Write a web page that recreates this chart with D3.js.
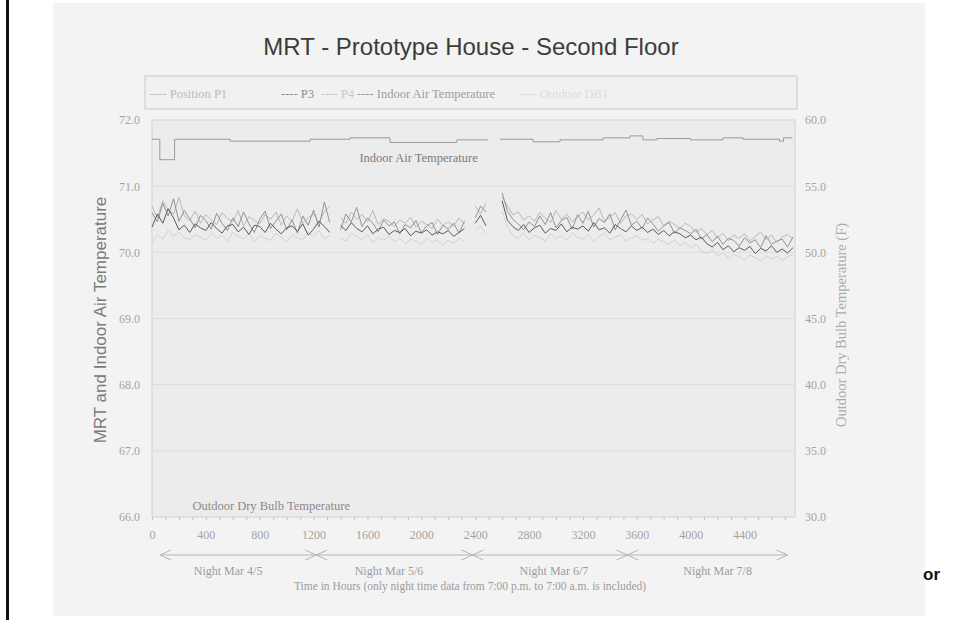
<!DOCTYPE html>
<html lang="en">
<head>
  <meta charset="utf-8">
  <title>MRT - Prototype House - Second Floor</title>
  <script src="https://cdn.jsdelivr.net/npm/d3@7"></script>
  <style>
    body { margin: 0; background: #fff; }
    .serif text, text.serif { font-family: "Liberation Serif", "Times New Roman", serif; }
    .sans { font-family: "Liberation Sans", Arial, sans-serif; }
  </style>
</head>
<body>
  <div id="chart"></div>

  <script>
    "use strict"

    // sample times (hours of night-time data) shared by the MRT traces
    var hours = [0,40,80,120,160,200,240,280,320,360,400,440,480,520,560,600,640,680,720,760,
      800,840,880,920,960,1000,1040,1080,1120,1160,1200,1240,1280,1320,1360,1400,1440,1480,1520,1560,
      1600,1640,1680,1720,1760,1800,1840,1880,1920,1960,2000,2040,2080,2120,2160,2200,2240,2280,2320,2360,
      2400,2440,2480,2520,2560,2600,2640,2680,2720,2760,2800,2840,2880,2920,2960,3000,3040,3080,3120,3160,
      3200,3240,3280,3320,3360,3400,3440,3480,3520,3560,3600,3640,3680,3720,3760,3800,3840,3880,3920,3960,
      4000,4040,4080,4120,4160,4200,4240,4280,4320,4360,4400,4440,4480,4520,4560,4600,4640,4680,4720,4760];

    var mrtP1 = [70.60,70.46,70.74,70.55,70.81,70.47,70.63,70.51,70.37,70.56,
      70.48,70.35,70.59,70.44,70.33,70.52,70.39,70.61,70.43,70.30,
      70.50,70.62,70.36,70.47,70.58,70.34,70.49,70.29,70.55,70.41,
      70.64,70.38,70.76,70.45,null,70.34,70.58,70.46,70.68,70.39,
      70.52,70.44,70.31,70.49,70.40,70.46,70.28,70.42,70.37,70.48,
      70.30,70.40,70.45,70.27,70.41,70.35,70.44,70.29,70.47,null,
      70.52,70.70,70.61,null,null,70.90,70.62,70.50,70.43,70.34,
      70.46,70.39,70.55,70.42,70.60,70.37,70.48,70.53,70.35,70.57,
      70.44,70.62,70.38,70.51,70.45,70.58,70.34,70.49,70.64,70.41,
      70.47,70.36,70.52,70.43,70.32,70.40,70.45,70.29,70.37,70.33,
      70.28,70.35,70.20,70.27,70.16,70.24,70.12,70.21,70.18,70.09,
      70.22,70.14,70.19,70.07,70.25,70.12,70.17,70.20,70.08,70.23];

    var mrtP2 = [70.15,70.26,70.20,70.33,70.24,70.30,70.22,70.19,70.27,70.23,
      70.18,70.29,70.21,70.25,70.17,70.30,70.24,70.20,70.28,70.16,
      70.26,70.21,70.18,70.29,70.23,70.15,70.27,70.22,70.19,70.30,
      70.24,70.33,70.20,70.26,null,70.22,70.17,70.29,70.24,70.19,
      70.27,70.15,70.23,70.18,70.25,70.16,70.21,70.13,70.20,70.17,
      70.12,70.22,70.15,70.19,70.11,70.18,70.14,70.21,70.16,null,
      70.32,70.40,70.28,null,null,70.62,70.38,70.26,70.21,70.29,
      70.19,70.26,70.22,70.17,70.28,70.21,70.25,70.18,70.30,70.23,
      70.20,70.27,70.16,70.24,70.29,70.19,70.23,70.26,70.17,70.22,
      70.25,70.18,70.21,70.14,70.20,70.16,70.12,70.19,70.10,70.15,
      70.07,70.12,70.02,69.98,70.04,69.95,69.99,69.91,69.97,69.93,
      69.89,69.96,69.92,69.87,69.95,69.90,69.94,69.88,69.93,69.97];

    var mrtP3 = [70.38,70.58,70.44,70.66,70.52,70.34,70.41,70.30,70.43,70.37,
      70.33,70.45,70.36,70.29,70.40,70.42,70.31,70.38,70.27,70.41,
      70.39,70.30,70.44,70.35,70.28,70.37,70.40,70.32,70.43,70.26,
      70.35,70.47,70.39,70.30,null,70.41,70.33,70.45,70.36,70.31,
      70.40,70.28,70.35,70.38,70.27,70.33,70.30,70.36,70.25,70.32,
      70.29,70.34,70.26,70.31,70.28,70.33,70.24,70.30,70.36,null,
      70.44,70.56,70.40,null,null,70.78,70.48,70.39,70.33,70.42,
      70.30,70.37,70.41,70.29,70.36,70.33,70.43,70.31,70.38,70.35,
      70.40,70.32,70.45,70.34,70.37,70.29,70.42,70.36,70.31,70.40,
      70.33,70.38,70.30,70.35,70.27,70.33,70.25,70.31,70.28,70.22,
      70.26,70.19,70.23,70.13,70.08,70.15,70.04,70.10,70.01,70.07,
      70.03,70.09,69.98,70.06,70.02,70.10,70.00,70.05,69.99,70.07];

    var mrtP4 = [70.70,70.52,70.78,70.64,70.58,70.83,70.55,70.48,70.62,70.44,
      70.57,70.49,70.42,70.60,70.51,70.46,70.63,70.40,70.54,70.48,
      70.43,70.57,70.50,70.61,70.41,70.55,70.47,70.66,70.44,70.52,
      70.58,70.45,70.62,70.70,null,70.52,70.44,70.61,70.50,70.57,
      70.46,70.63,70.42,70.51,70.47,70.39,70.49,70.44,70.53,70.38,
      70.47,70.42,70.36,70.50,70.41,70.46,70.40,70.52,70.43,null,
      70.70,70.58,70.74,null,null,70.84,70.70,70.57,70.61,70.49,
      70.55,70.47,70.60,70.52,70.45,70.63,70.50,70.58,70.46,70.54,
      70.61,70.49,70.56,70.67,70.47,70.53,70.60,70.44,70.55,70.58,
      70.50,70.57,70.43,70.49,70.54,70.40,70.47,70.42,70.36,70.44,
      70.39,70.30,70.36,70.27,70.33,70.22,70.29,70.18,70.26,70.21,
      70.28,70.17,70.24,70.31,70.19,70.26,70.15,70.23,70.27,70.20];

    // indoor air temperature (stepped thermostat record)
    var indoorHours = [0,58,168,580,1175,1470,1767,2264,2494,2500,2585,2830,3030,3350,3550,3645,3750,4000,4240,4390,4660,4690,4755];
    var indoorTemp  = [71.71,71.40,71.71,71.68,71.71,71.73,71.66,71.70,71.70,null,71.71,71.67,71.70,71.73,71.76,71.70,71.72,71.70,71.73,71.71,71.68,71.73,71.73];

    var leftTicks  = [66, 67, 68, 69, 70, 71, 72];
    var rightTicks = [30, 35, 40, 45, 50, 55, 60];
    var hourTicks  = [0, 400, 800, 1200, 1600, 2000, 2400, 2800, 3200, 3600, 4000, 4400];
    var nightBreaks = [1220, 2380, 3530];
    var nightLabels = ['Night Mar 4/5', 'Night Mar 5/6', 'Night Mar 6/7', 'Night Mar 7/8'];
    var nightCentres = [565, 1760, 2985, 4200];

    var legendLabels = ['---- Position P1', '---- P2', '---- P3', '---- P4', '---- Indoor Air Temperature', '---- Outdoor DB1'];

    var series = [
      { name: 'P2', values: mrtP2, colour: '#d2d2d2' },
      { name: 'P4', values: mrtP4, colour: '#b8b8b8' },
      { name: 'P1', values: mrtP1, colour: '#929292' },
      { name: 'P3', values: mrtP3, colour: '#5a5a5a' }
    ];

    function drawChart() {
      var W = 956, H = 620;
      var plot = { left: 152, right: 795, top: 120, bottom: 517 };

      var svg = d3.select('#chart').append('svg')
        .attr('width', W).attr('height', H);

      // scanned sheet
      svg.append('rect').attr('width', W).attr('height', H).attr('fill', '#fff');
      svg.append('rect').attr('x', 53).attr('y', 3).attr('width', 872).attr('height', 613).attr('fill', '#f3f3f3');
      svg.append('rect').attr('x', 6).attr('y', 0).attr('width', 3).attr('height', H).attr('fill', '#111');

      var x = d3.scaleLinear().domain([0, 4775]).range([plot.left, plot.right]);
      var yL = d3.scaleLinear().domain([66, 72]).range([plot.bottom, plot.top]);
      var yR = d3.scaleLinear().domain([30, 60]).range([plot.bottom, plot.top]);

      // title
      svg.append('text').attr('class', 'sans')
        .attr('x', 471).attr('y', 55)
        .attr('text-anchor', 'middle')
        .attr('font-size', 24).attr('fill', '#3c3c3c')
        .text('MRT - Prototype House - Second Floor');

      // legend box
      var legend = svg.append('g').attr('class', 'serif');
      legend.append('rect').attr('x', 145).attr('y', 76).attr('width', 652).attr('height', 33)
        .attr('fill', '#f1f1f1').attr('stroke', '#c9c9c9');
      var legX = [150, 244, 281, 321, 357, 520];
      var legCol = ['#b9b9b9', '#ededed', '#8c8c8c', '#c9c9c9', '#9c9c9c', '#dcdcdc'];
      legend.selectAll('text.leg').data(legendLabels).enter().append('text')
        .attr('class', 'leg')
        .attr('x', (d, i) => legX[i]).attr('y', 98)
        .attr('font-size', 12.5)
        .attr('fill', (d, i) => legCol[i])
        .text(d => d);

      // plot area
      svg.append('rect')
        .attr('x', plot.left).attr('y', plot.top)
        .attr('width', plot.right - plot.left).attr('height', plot.bottom - plot.top)
        .attr('fill', '#ececec').attr('stroke', '#d2d2d2');

      svg.append('g').selectAll('line').data(leftTicks.slice(1, -1)).enter().append('line')
        .attr('x1', plot.left).attr('x2', plot.right)
        .attr('y1', d => yL(d)).attr('y2', d => yL(d))
        .attr('stroke', '#dcdcdc');

      // minor hour ticks
      svg.append('g')
        .attr('transform', 'translate(0,' + plot.bottom + ')')
        .call(d3.axisBottom(x).tickValues(d3.range(0, 4800, 100)).tickSize(3).tickFormat(''))
        .call(g => g.select('.domain').remove())
        .call(g => g.selectAll('line').attr('stroke', '#c4c4c4'));

      // axes
      var axisStyle = function(g) {
        g.select('.domain').remove();
        g.selectAll('text').attr('fill', '#a3a3a3').attr('font-size', 12)
          .attr('font-family', '"Liberation Serif", "Times New Roman", serif');
      };
      svg.append('g')
        .attr('transform', 'translate(' + plot.left + ',0)')
        .call(d3.axisLeft(yL).tickValues(leftTicks).tickFormat(d3.format('.1f')).tickSize(0).tickPadding(12))
        .call(axisStyle);
      svg.append('g')
        .attr('transform', 'translate(' + plot.right + ',0)')
        .call(d3.axisRight(yR).tickValues(rightTicks).tickFormat(d3.format('.1f')).tickSize(0).tickPadding(10))
        .call(axisStyle);
      svg.append('g')
        .attr('transform', 'translate(0,' + plot.bottom + ')')
        .call(d3.axisBottom(x).tickValues(hourTicks).tickFormat(d3.format('d')).tickSize(0).tickPadding(13))
        .call(axisStyle);

      // MRT traces
      var mrtLine = d3.line()
        .defined(d => d[1] != null)
        .x(d => x(d[0]))
        .y(d => yL(d[1]));
      svg.append('g').selectAll('path').data(series).enter().append('path')
        .attr('d', s => mrtLine(hours.map((h, i) => [h, s.values[i]])))
        .attr('fill', 'none')
        .attr('stroke', s => s.colour)
        .attr('stroke-width', 1);

      // indoor air temperature
      var indoorLine = d3.line()
        .defined(d => d[1] != null)
        .curve(d3.curveStepAfter)
        .x(d => x(d[0]))
        .y(d => yL(d[1]));
      svg.append('path')
        .attr('d', indoorLine(indoorHours.map((h, i) => [h, indoorTemp[i]])))
        .attr('fill', 'none').attr('stroke', '#9a9a9a').attr('stroke-width', 1);

      // in-plot labels
      svg.append('text').attr('class', 'serif')
        .attr('x', x(1540)).attr('y', yL(71.37))
        .attr('font-size', 12.5).attr('fill', '#7a7a7a')
        .text('Indoor Air Temperature');
      svg.append('text').attr('class', 'serif')
        .attr('x', x(300)).attr('y', yL(66.1))
        .attr('font-size', 12.5).attr('fill', '#8a8a8a')
        .text('Outdoor Dry Bulb Temperature');

      // axis titles
      svg.append('text').attr('class', 'sans')
        .attr('transform', 'translate(106,320) rotate(-90)')
        .attr('text-anchor', 'middle')
        .attr('font-size', 17).attr('fill', '#7a7a7a')
        .text('MRT and Indoor Air Temperature');
      svg.append('text').attr('class', 'serif')
        .attr('transform', 'translate(846,325) rotate(-90)')
        .attr('text-anchor', 'middle')
        .attr('font-size', 14.5).attr('fill', '#ababab')
        .text('Outdoor Dry Bulb Temperature (F)');

      // night spans under the axis
      var arrowY = 555;
      var nights = svg.append('g').attr('stroke', '#b5b5b5').attr('fill', 'none');
      nights.append('line').attr('x1', x(60)).attr('x2', x(4720)).attr('y1', arrowY).attr('y2', arrowY);
      nights.append('path').attr('d', 'M' + (x(60) + 11) + ',' + (arrowY - 5) + 'L' + x(60) + ',' + arrowY + 'L' + (x(60) + 11) + ',' + (arrowY + 5));
      nights.append('path').attr('d', 'M' + (x(4720) - 11) + ',' + (arrowY - 5) + 'L' + x(4720) + ',' + arrowY + 'L' + (x(4720) - 11) + ',' + (arrowY + 5));
      nights.selectAll('path.cross').data(nightBreaks).enter().append('path')
        .attr('class', 'cross')
        .attr('d', d => 'M' + (x(d) - 11) + ',' + (arrowY - 5) + 'L' + (x(d) + 11) + ',' + (arrowY + 5) +
                        'M' + (x(d) - 11) + ',' + (arrowY + 5) + 'L' + (x(d) + 11) + ',' + (arrowY - 5));

      svg.append('g').attr('class', 'serif').selectAll('text').data(nightLabels).enter().append('text')
        .attr('x', (d, i) => x(nightCentres[i])).attr('y', 575)
        .attr('text-anchor', 'middle')
        .attr('font-size', 12).attr('fill', '#9c9c9c')
        .text(d => d);

      svg.append('text').attr('class', 'serif')
        .attr('x', 470).attr('y', 590)
        .attr('text-anchor', 'middle')
        .attr('font-size', 11.5).attr('fill', '#9c9c9c')
        .text('Time in Hours (only night time data from 7:00 p.m. to 7:00 a.m. is included)');

      // cropped word from the neighbouring slide
      svg.append('text').attr('class', 'sans')
        .attr('x', 923).attr('y', 580)
        .attr('font-size', 17).attr('font-weight', 'bold').attr('fill', '#111')
        .text('or');
    }

    drawChart();
  </script>
</body>
</html>
